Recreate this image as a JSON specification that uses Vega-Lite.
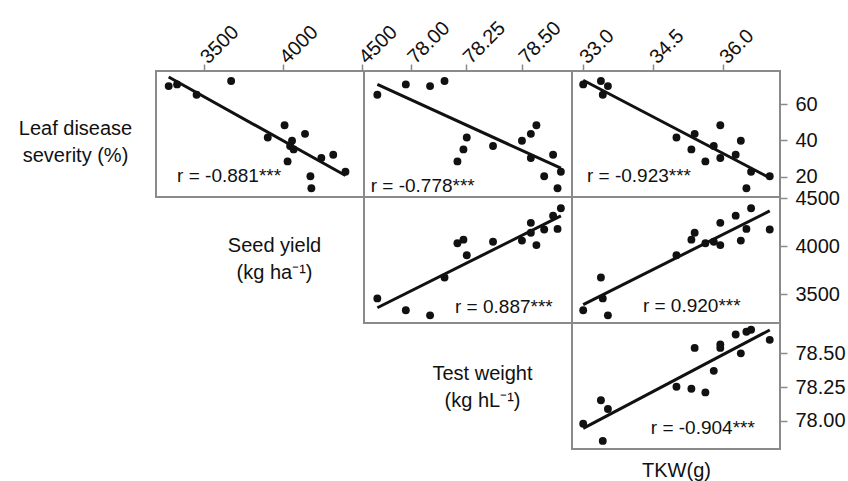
{
  "$schema": "https://vega.github.io/schema/vega-lite/v6.json",
  "padding": {"left": 17, "top": 16, "right": 5, "bottom": 5},
  "datasets": {
    "s": [
      {"id": "A", "leaf": 72.7, "seed": 3674, "tw": 78.152, "tkw": 33.39},
      {"id": "B", "leaf": 70.8, "seed": 3333, "tw": 77.978, "tkw": 33.01},
      {"id": "C", "leaf": 69.9, "seed": 3280, "tw": 78.087, "tkw": 33.54},
      {"id": "D", "leaf": 65.1, "seed": 3456, "tw": 77.850, "tkw": 33.43},
      {"id": "E", "leaf": 48.3, "seed": 4011, "tw": 78.565, "tkw": 35.95},
      {"id": "F", "leaf": 43.6, "seed": 4140, "tw": 78.540, "tkw": 35.40},
      {"id": "G", "leaf": 41.6, "seed": 3905, "tw": 78.252, "tkw": 35.01},
      {"id": "H", "leaf": 39.8, "seed": 4058, "tw": 78.500, "tkw": 36.39},
      {"id": "I", "leaf": 36.9, "seed": 4046, "tw": 78.370, "tkw": 35.81},
      {"id": "J", "leaf": 35.0, "seed": 4068, "tw": 78.237, "tkw": 35.33},
      {"id": "K", "leaf": 32.1, "seed": 4318, "tw": 78.640, "tkw": 36.28},
      {"id": "L", "leaf": 30.3, "seed": 4243, "tw": 78.540, "tkw": 35.95},
      {"id": "M", "leaf": 28.4, "seed": 4030, "tw": 78.210, "tkw": 35.63},
      {"id": "N", "leaf": 22.7, "seed": 4395, "tw": 78.675, "tkw": 36.61},
      {"id": "O", "leaf": 20.2, "seed": 4174, "tw": 78.600, "tkw": 37.01},
      {"id": "P", "leaf": 13.6, "seed": 4180, "tw": 78.660, "tkw": 36.51}
    ]
  },
  "data": {"name": "s"},
  "columns": 3,
  "spacing": 0,
  "bounds": "flush",
  "concat": [
    {
      "width": 208, "height": 126,
      "layer": [
        {"mark": {"type": "point", "filled": true, "color": "#111", "opacity": 1, "size": 62},
         "encoding": {
          "x": {"field": "seed", "type": "quantitative", "scale": {"domain": [3200, 4512], "nice": false, "zero": false},
                "axis": {"orient": "top", "values": [3500, 4000, 4500], "format": "d", "labelAngle": -45, "labelAlign": "left", "labelBaseline": "middle", "labelPadding": 4, "title": null}},
          "y": {"field": "leaf", "type": "quantitative", "scale": {"domain": [8.8, 78.2], "nice": false, "zero": false},
                "axis": {"orient": "left", "labels": false, "ticks": false, "domain": false, "title": ["Leaf disease", "severity (%)"], "titleAngle": 0, "titleX": -81, "titleY": 63, "titleAlign": "center", "titleBaseline": "alphabetic", "titleLineHeight": 27}}
         }},
        {"transform": [{"regression": "leaf", "on": "seed"}], "mark": {"type": "line", "color": "#111", "strokeWidth": 3},
         "encoding": {"x": {"field": "seed", "type": "quantitative"}, "y": {"field": "leaf", "type": "quantitative"}}},
        {"data": {"values": [{"r": "r = -0.881***"}]}, "mark": {"type": "text", "align": "left", "baseline": "alphabetic", "fontSize": 19, "color": "#111"},
         "encoding": {"x": {"datum": 3333, "type": "quantitative"}, "y": {"datum": 16.8, "type": "quantitative"}, "text": {"field": "r"}}}
      ]
    },
    {
      "width": 208, "height": 126,
      "layer": [
        {"mark": {"type": "point", "filled": true, "color": "#111", "opacity": 1, "size": 62},
         "encoding": {
          "x": {"field": "tw", "type": "quantitative", "scale": {"domain": [77.79, 78.725], "nice": false, "zero": false},
                "axis": {"orient": "top", "values": [78.0, 78.25, 78.5], "format": ".2f", "labelAngle": -45, "labelAlign": "left", "labelBaseline": "middle", "labelPadding": 4, "title": null}},
          "y": {"field": "leaf", "type": "quantitative", "scale": {"domain": [8.8, 78.2], "nice": false, "zero": false}, "axis": null}
         }},
        {"transform": [{"regression": "leaf", "on": "tw"}], "mark": {"type": "line", "color": "#111", "strokeWidth": 3},
         "encoding": {"x": {"field": "tw", "type": "quantitative"}, "y": {"field": "leaf", "type": "quantitative", "axis": null}}},
        {"data": {"values": [{"r": "r = -0.778***"}]}, "mark": {"type": "text", "align": "left", "baseline": "alphabetic", "fontSize": 19, "color": "#111"},
         "encoding": {"x": {"datum": 77.82, "type": "quantitative"}, "y": {"datum": 11.5, "type": "quantitative", "axis": null}, "text": {"field": "r"}}}
      ]
    },
    {
      "width": 208, "height": 126,
      "layer": [
        {"mark": {"type": "point", "filled": true, "color": "#111", "opacity": 1, "size": 62},
         "encoding": {
          "x": {"field": "tkw", "type": "quantitative", "scale": {"domain": [32.77, 37.23], "nice": false, "zero": false},
                "axis": {"orient": "top", "values": [33.0, 34.5, 36.0], "format": ".1f", "labelAngle": -45, "labelAlign": "left", "labelBaseline": "middle", "labelPadding": 4, "title": null}},
          "y": {"field": "leaf", "type": "quantitative", "scale": {"domain": [8.8, 78.2], "nice": false, "zero": false},
                "axis": {"orient": "right", "values": [20, 40, 60], "title": null}}
         }},
        {"transform": [{"regression": "leaf", "on": "tkw"}], "mark": {"type": "line", "color": "#111", "strokeWidth": 3},
         "encoding": {"x": {"field": "tkw", "type": "quantitative"}, "y": {"field": "leaf", "type": "quantitative"}}},
        {"data": {"values": [{"r": "r = -0.923***"}]}, "mark": {"type": "text", "align": "left", "baseline": "alphabetic", "fontSize": 19, "color": "#111"},
         "encoding": {"x": {"datum": 33.09, "type": "quantitative"}, "y": {"datum": 16.8, "type": "quantitative"}, "text": {"field": "r"}}}
      ]
    },
    {
      "width": 208, "height": 126, "view": {"stroke": null},
      "data": {"values": [{"t": ""}]},
      "mark": {"type": "text"},
      "encoding": {"text": {"field": "t"}}
    },
    {
      "width": 208, "height": 126,
      "layer": [
        {"mark": {"type": "point", "filled": true, "color": "#111", "opacity": 1, "size": 62},
         "encoding": {
          "x": {"field": "tw", "type": "quantitative", "scale": {"domain": [77.79, 78.725], "nice": false, "zero": false},
                "axis": {"orient": "bottom", "labels": false, "ticks": false, "domain": false, "title": ["Test weight", "(kg hL⁻¹)"], "titleX": 118, "titleY": 56, "titleAlign": "center", "titleBaseline": "alphabetic", "titleLineHeight": 27}},
          "y": {"field": "seed", "type": "quantitative", "scale": {"domain": [3200, 4512], "nice": false, "zero": false},
                "axis": {"orient": "left", "labels": false, "ticks": false, "domain": false, "title": ["Seed yield", "(kg ha⁻¹)"], "titleAngle": 0, "titleX": -90, "titleY": 54, "titleAlign": "center", "titleBaseline": "alphabetic", "titleLineHeight": 27}}
         }},
        {"transform": [{"regression": "seed", "on": "tw"}], "mark": {"type": "line", "color": "#111", "strokeWidth": 3},
         "encoding": {"x": {"field": "tw", "type": "quantitative"}, "y": {"field": "seed", "type": "quantitative"}}},
        {"data": {"values": [{"r": "r = 0.887***"}]}, "mark": {"type": "text", "align": "left", "baseline": "alphabetic", "fontSize": 19, "color": "#111"},
         "encoding": {"x": {"datum": 78.199, "type": "quantitative"}, "y": {"datum": 3307, "type": "quantitative"}, "text": {"field": "r"}}}
      ]
    },
    {
      "width": 208, "height": 126,
      "layer": [
        {"mark": {"type": "point", "filled": true, "color": "#111", "opacity": 1, "size": 62},
         "encoding": {
          "x": {"field": "tkw", "type": "quantitative", "scale": {"domain": [32.77, 37.23], "nice": false, "zero": false}, "axis": null},
          "y": {"field": "seed", "type": "quantitative", "scale": {"domain": [3200, 4512], "nice": false, "zero": false},
                "axis": {"orient": "right", "values": [3500, 4000, 4500], "format": "d", "title": null}}
         }},
        {"transform": [{"regression": "seed", "on": "tkw"}], "mark": {"type": "line", "color": "#111", "strokeWidth": 3},
         "encoding": {"x": {"field": "tkw", "type": "quantitative", "axis": null}, "y": {"field": "seed", "type": "quantitative"}}},
        {"data": {"values": [{"r": "r = 0.920***"}]}, "mark": {"type": "text", "align": "left", "baseline": "alphabetic", "fontSize": 19, "color": "#111"},
         "encoding": {"x": {"datum": 34.29, "type": "quantitative", "axis": null}, "y": {"datum": 3318, "type": "quantitative"}, "text": {"field": "r"}}}
      ]
    },
    {
      "width": 208, "height": 126, "view": {"stroke": null},
      "data": {"values": [{"t": ""}]},
      "mark": {"type": "text"},
      "encoding": {"text": {"field": "t"}}
    },
    {
      "width": 208, "height": 126, "view": {"stroke": null},
      "data": {"values": [{"t": ""}]},
      "mark": {"type": "text"},
      "encoding": {"text": {"field": "t"}}
    },
    {
      "width": 208, "height": 126,
      "layer": [
        {"mark": {"type": "point", "filled": true, "color": "#111", "opacity": 1, "size": 62},
         "encoding": {
          "x": {"field": "tkw", "type": "quantitative", "scale": {"domain": [32.77, 37.23], "nice": false, "zero": false},
                "axis": {"orient": "bottom", "labels": false, "ticks": false, "domain": false, "title": "TKW(g)", "titleX": 104, "titleY": 27, "titleAlign": "center", "titleBaseline": "alphabetic"}},
          "y": {"field": "tw", "type": "quantitative", "scale": {"domain": [77.79, 78.725], "nice": false, "zero": false},
                "axis": {"orient": "right", "values": [78.0, 78.25, 78.5], "format": ".2f", "title": null}}
         }},
        {"transform": [{"regression": "tw", "on": "tkw"}], "mark": {"type": "line", "color": "#111", "strokeWidth": 3},
         "encoding": {"x": {"field": "tkw", "type": "quantitative"}, "y": {"field": "tw", "type": "quantitative"}}},
        {"data": {"values": [{"r": "r = -0.904***"}]}, "mark": {"type": "text", "align": "left", "baseline": "alphabetic", "fontSize": 19, "color": "#111"},
         "encoding": {"x": {"datum": 34.46, "type": "quantitative"}, "y": {"datum": 77.899, "type": "quantitative"}, "text": {"field": "r"}}}
      ]
    }
  ],
  "config": {
    "font": "Liberation Sans",
    "background": "white",
    "view": {"stroke": "#8a8a8a", "strokeWidth": 2},
    "axis": {
      "labelFont": "Liberation Sans", "labelFontSize": 20, "labelColor": "#111",
      "titleFont": "Liberation Sans", "titleFontSize": 20, "titleFontWeight": "normal", "titleColor": "#111",
      "tickColor": "#8a8a8a", "tickSize": 7, "tickWidth": 1.5, "domain": false, "grid": false,
      "labelPadding": 8, "labelFlush": false, "labelOverlap": false
    }
  }
}
